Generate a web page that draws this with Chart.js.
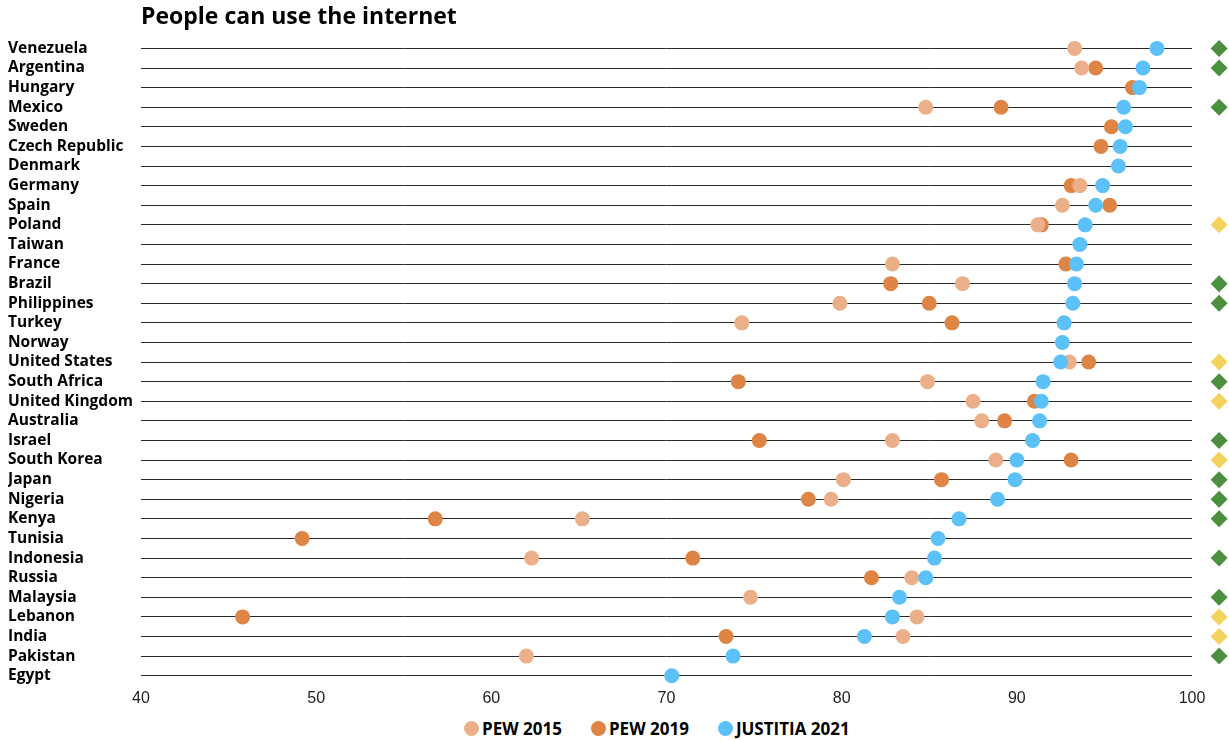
<!DOCTYPE html>
<html>
<head>
<meta charset="utf-8">
<title>People can use the internet</title>
<script src="https://cdn.jsdelivr.net/npm/chart.js@4"></script>
<style>
  body { margin: 0; background: #fff; }
  #wrap { width: 1229px; height: 714px; }
  #legend {
    display: flex; align-items: center;
    height: 28px; padding-left: 464px;
    font: bold 17px 'Open Sans', sans-serif; color: #000;
  }
  #legend .item { display: flex; align-items: center; margin-right: 29px; }
  #legend .dot { width: 15px; height: 15px; border-radius: 50%; margin-right: 3px; }
</style>
</head>
<body>
<div id="wrap"><canvas id="internet"></canvas></div>
<div id="legend"></div>
<script>
// countries, top to bottom
var countries = ['Venezuela', 'Argentina', 'Hungary', 'Mexico', 'Sweden', 'Czech Republic', 'Denmark',
  'Germany', 'Spain', 'Poland', 'Taiwan', 'France', 'Brazil', 'Philippines', 'Turkey', 'Norway',
  'United States', 'South Africa', 'United Kingdom', 'Australia', 'Israel', 'South Korea', 'Japan',
  'Nigeria', 'Kenya', 'Tunisia', 'Indonesia', 'Russia', 'Malaysia', 'Lebanon', 'India', 'Pakistan', 'Egypt'];

var pew2015 = [93.3, 93.7, null, 84.8, null, null, null,
  93.6, 92.6, 91.2, null, 82.9, 86.9, 79.9, 74.3, null,
  93.0, 84.9, 87.5, 88.0, 82.9, 88.8, 80.1,
  79.4, 65.2, null, 62.3, 84.0, 74.8, 84.3, 83.5, 62.0, null];

var pew2019 = [null, 94.5, 96.6, 89.1, 95.4, 94.8, null,
  93.1, 95.3, 91.4, null, 92.8, 82.8, 85.0, 86.3, null,
  94.1, 74.1, 91.0, 89.3, 75.3, 93.1, 85.7,
  78.1, 56.8, 49.2, 71.5, 81.7, null, 45.8, 73.4, null, null];

var justitia2021 = [98.0, 97.2, 97.0, 96.1, 96.2, 95.9, 95.8,
  94.9, 94.5, 93.9, 93.6, 93.4, 93.3, 93.2, 92.7, 92.6,
  92.5, 91.5, 91.4, 91.3, 90.9, 90.0, 89.9,
  88.9, 86.7, 85.5, 85.3, 84.8, 83.3, 82.9, 81.3, 73.8, 70.3];

// marker column on the right: 'g' green, 'y' yellow, null none
var flags = ['g', 'g', null, 'g', null, null, null,
  null, null, 'y', null, null, 'g', 'g', null, null,
  'y', 'g', 'y', null, 'g', 'y', 'g',
  'g', 'g', null, 'g', null, 'g', 'y', 'y', 'g', null];

var seriesNames = ['PEW 2015', 'PEW 2019', 'JUSTITIA 2021'];
var seriesColors = ['#EBB08A', '#DE8445', '#5CC1F9'];
var flagColors = { g: '#4B8F3F', y: '#F3D35B' };
var flagColumn = 101.55;  // sits just past the end of the axis

function points(values) {
  return countries
    .map(function(c, i) { return values[i] == null ? null : { x: values[i], y: c }; })
    .filter(function(p) { return p; });
}

var flagPoints = points(flags.map(function(f) { return f ? flagColumn : null; }));
var flagFill = flags.filter(function(f) { return f; }).map(function(f) { return flagColors[f]; });

function dotSeries(i, values, order) {
  return {
    label: seriesNames[i],
    data: points(values),
    showLine: false,
    pointStyle: 'circle',
    pointRadius: 7.5,
    pointHoverRadius: 7.5,
    pointBorderWidth: 0,
    backgroundColor: seriesColors[i],
    pointBackgroundColor: seriesColors[i],
    borderColor: seriesColors[i],
    order: order,
    clip: false
  };
}

var chart = new Chart('internet', {
  type: 'line',
  data: {
    labels: countries,
    datasets: [
      dotSeries(0, pew2015, 1),
      dotSeries(1, pew2019, 2),
      dotSeries(2, justitia2021, 0),  // blue dots sit on top
      {
        label: 'flags',
        data: flagPoints,
        showLine: false,
        pointStyle: 'rectRot',
        pointRadius: 8.5,
        pointHoverRadius: 8.5,
        pointBackgroundColor: flagFill,
        // wide transparent border so the points outside the plot area still get drawn
        pointBorderWidth: 20,
        pointBorderColor: 'rgba(0,0,0,0)',
        order: 3,
        clip: false
      }
    ]
  },
  options: {
    indexAxis: 'y',
    responsive: true,
    maintainAspectRatio: false,
    animation: false,
    layout: { padding: { left: 8, right: 37, top: 0, bottom: 0 } },
    plugins: {
      tooltip: { enabled: false },
      legend: { display: false },
      title: {
        display: true,
        text: 'People can use the internet',
        align: 'start',
        fullSize: false,
        color: '#000',
        font: { family: 'Open Sans', size: 23, weight: 'bold' },
        padding: { top: 4, bottom: 7 }
      }
    },
    scales: {
      x: {
        type: 'linear',
        min: 40,
        max: 100,
        grid: { display: false, drawTicks: false },
        border: { display: false },
        ticks: {
          stepSize: 10,
          padding: 3,
          color: '#222',
          font: { family: 'Liberation Sans', size: 16 }
        }
      },
      y: {
        type: 'category',
        offset: true,
        grid: { offset: false, drawTicks: false, color: '#2a2a2a', lineWidth: 1 },
        border: { display: false },
        ticks: {
          autoSkip: false,
          crossAlign: 'far',
          color: '#000',
          font: { family: 'Open Sans', size: 15.5, weight: 'bold' }
        },
        afterFit: function(scale) { scale.width = 133; }
      }
    }
  }
});

// legend below the canvas, built from the same series names and colours
var legendBox = document.getElementById('legend');
seriesNames.forEach(function(name, i) {
  var item = document.createElement('span');
  item.className = 'item';
  var dot = document.createElement('span');
  dot.className = 'dot';
  dot.style.background = seriesColors[i];
  item.appendChild(dot);
  item.appendChild(document.createTextNode(name));
  legendBox.appendChild(item);
});
</script>
</body>
</html>
